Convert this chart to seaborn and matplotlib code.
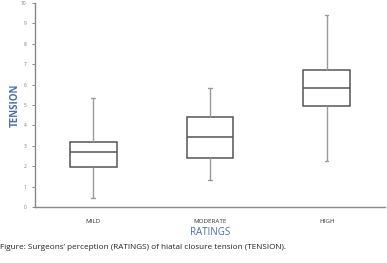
import pandas as pd
import matplotlib.pyplot as plt
import seaborn as sns

# values: min, q1, median, q3, max per rating group
mild = [0.46, 1.95, 2.68, 3.20, 5.34]
moderate = [1.32, 2.39, 3.45, 4.41, 5.85]
high = [2.24, 4.93, 5.83, 6.73, 9.41]
ratings = ['MILD', 'MODERATE', 'HIGH']

df = pd.DataFrame({
    'RATINGS': [r for r, vals in zip(ratings, [mild, moderate, high]) for _ in vals],
    'TENSION': mild + moderate + high,
})

sns.set_theme(style="white")
plt.rcParams['font.family'] = ['Open Sans', 'DejaVu Sans']

fig = plt.figure(figsize=(3.87, 2.63), dpi=100)
ax = fig.add_axes([0.090, 0.213, 0.905, 0.776])

sns.boxplot(
    data=df, x='RATINGS', y='TENSION', order=ratings,
    whis=(0, 100), width=0.4, color='white', linecolor='#555555',
    linewidth=1.1, capwidths=0.03, ax=ax,
    whiskerprops=dict(color='#9a9a9a', linewidth=1.0),
    capprops=dict(color='#9a9a9a', linewidth=1.0),
)

ax.set_ylim(0, 10)
ax.set_xlim(-0.5, 2.5)
ax.set_yticks(range(0, 11))
ax.tick_params(axis='y', labelsize=3.5, labelcolor='#777777', length=2,
               width=0.6, color='#777777', left=True, pad=4)
ax.tick_params(axis='x', labelsize=4.5, labelcolor='#333333', length=0, pad=9)

for side in ['top', 'right']:
    ax.spines[side].set_visible(False)
for side in ['left', 'bottom']:
    ax.spines[side].set_color('#888888')
    ax.spines[side].set_linewidth(1.0)

ax.set_xlabel('RATINGS', fontsize=7, color='#4a6ea6', labelpad=2)
ax.set_ylabel('TENSION', fontsize=7, color='#4a6ea6', fontweight='bold')
ax.yaxis.set_label_coords(-0.04, 0.5)

fig.text(0.0, 0.06, "Figure: Surgeons\u2019 perception (RATINGS) of hiatal closure tension (TENSION).",
         fontsize=5.9, color='#222222', ha='left', va='center')

plt.savefig('out.png', dpi=100)
